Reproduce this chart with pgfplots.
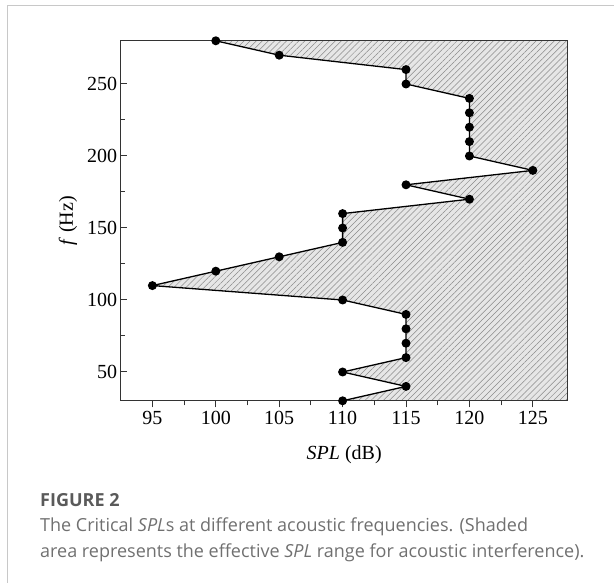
\documentclass[border=0pt]{standalone}
\usepackage{pgfplots}
\pgfplotsset{compat=1.18}
\usepackage{fontspec}
\setmainfont{Liberation Serif}
\newfontfamily\capfont{Open Sans}
\usetikzlibrary{patterns.meta}
\definecolor{framegray}{HTML}{C8C8C8}
\definecolor{capgray}{HTML}{707070}
\definecolor{figgray}{HTML}{5A5A5A}
\definecolor{hatchfill}{HTML}{E6E6E6}
\definecolor{hatchline}{HTML}{8A8A8A}
\definecolor{axisdark}{HTML}{333333}
\begin{document}
\begin{tikzpicture}
\useasboundingbox (0pt,0pt) rectangle (614pt,583pt);
% frame (top and left only)
\draw[framegray, line width=1.5pt] (614pt,577.5pt) -- (7.5pt,577.5pt) -- (7.5pt,0pt);
\begin{axis}[
  at={(120.7pt,182.2pt)}, anchor=south west,
  width=447pt, height=360pt, scale only axis,
  xmin=92.5, xmax=127.75, ymin=30, ymax=280,
  xtick={95,100,105,110,115,120,125},
  ytick={50,100,150,200,250},
  minor x tick num=1, minor y tick num=1,
  x tick style={axisdark, line width=1pt},
  y tick style={axisdark, line width=1pt},
  xtick align=outside, ytick align=inside,
  xtick pos=bottom, ytick pos=left,
  major tick length=6.5pt, minor tick length=4.5pt,
  axis line style={axisdark, line width=1.4pt},
  tick label style={font=\fontsize{20}{24}\selectfont},
  /pgf/number format/assume math mode=true,
  label style={font=\fontsize{20}{24}\selectfont},
  xlabel={\textit{SPL} (dB)},
  ylabel={\textit{f} (Hz)},
  xlabel style={at={(axis description cs:0.5,-0.1644)}, anchor=base},
  ylabel style={at={(axis description cs:-0.118,0.5)}, anchor=center},
  axis on top,
  clip=true,
]
\addplot[draw=none, fill=hatchfill,
  postaction={pattern={Lines[angle=45,distance=4.3pt,line width=0.5pt]}, pattern color=hatchline}]
  coordinates {
  (100,280) (105,270) (115,260) (115,250) (120,240) (120,230) (120,220)
  (120,210) (120,200) (125,190) (115,180) (120,170) (110,160) (110,150)
  (110,140) (105,130) (100,120) (95,110) (110,100) (115,90) (115,80)
  (115,70) (115,60) (110,50) (115,40) (110,30)
  (127.75,30) (127.75,280)} -- cycle;
\addplot[black, line width=1.3pt, mark=*, mark size=3.8pt, mark options={fill=black}]
  coordinates {
  (100,280) (105,270) (115,260) (115,250) (120,240) (120,230) (120,220)
  (120,210) (120,200) (125,190) (115,180) (120,170) (110,160) (110,150)
  (110,140) (105,130) (100,120) (95,110) (110,100) (115,90) (115,80)
  (115,70) (115,60) (110,50) (115,40) (110,30)};
\end{axis}
% caption
\node[anchor=base west, inner sep=0, text=figgray, font=\capfont\fontsize{18}{21}\selectfont\bfseries] at (40pt,76pt) {FIGURE 2};
\node[anchor=base west, inner sep=0, text=capgray, font=\capfont\fontsize{18}{21}\selectfont] at (40pt,51pt) {The Critical \textit{SPL}s at different acoustic frequencies. (Shaded};
\node[anchor=base west, inner sep=0, text=capgray, font=\capfont\fontsize{18}{21}\selectfont] at (40pt,25pt) {area represents the effective \textit{SPL} range for acoustic interference).};
\end{tikzpicture}
\end{document}
